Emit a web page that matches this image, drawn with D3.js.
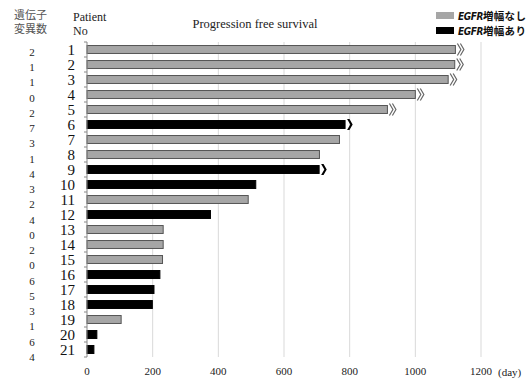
<!DOCTYPE html>
<html>
<head>
<meta charset="utf-8">
<script src="https://cdn.jsdelivr.net/npm/d3@7"></script>
<style>
  body { margin: 0; background: #fff; }
  svg { display: block; }
</style>
</head>
<body>
<div id="chart"></div>
<script>
// patient number, PFS (days), EGFR amplification, gene mutation count, still ongoing
var patients = ["1","2","3","4","5","6","7","8","9","10","11","12","13","14","15","16","17","18","19","20","21"];
var pfsDays = [1122, 1120, 1100, 1000, 915, 786, 769, 708, 707, 514, 491, 376, 232, 232, 230, 222, 204, 199, 104, 30, 21];
var egfrAmp = [0, 0, 0, 0, 0, 1, 0, 0, 1, 1, 0, 1, 0, 0, 0, 1, 1, 1, 0, 1, 1];
var geneCounts = [2, 1, 1, 0, 2, 7, 3, 1, 4, 3, 2, 4, 0, 2, 0, 6, 5, 3, 1, 6, 4];
var ongoing = [1, 1, 1, 1, 1, 1, 0, 0, 1, 0, 0, 0, 0, 0, 0, 0, 0, 0, 0, 0, 0];
var xTicks = [0, 200, 400, 600, 800, 1000, 1200];
var legendLabels = ["増幅なし", "増幅あり"];

var data = patients.map(function(p, i) {
  return { id: p, value: pfsDays[i], egfr: egfrAmp[i], genes: geneCounts[i], open: ongoing[i] };
});

var svg = d3.select("#chart").append("svg").attr("width", 530).attr("height", 379);
var serif = "'Liberation Serif', 'Times New Roman', serif";
var jp = "'Noto Sans CJK JP', sans-serif";

var xScale = d3.scaleLinear().domain([0, 1200]).range([87, 481]);
var yScale = d3.scaleBand().domain(patients).range([42, 357]).paddingInner(0.47).paddingOuter(0.235);
var geneScale = d3.scalePoint().domain(patients).range([52, 357]);

// gridlines
svg.append("g").selectAll("line")
   .data(xTicks.slice(1))
   .enter().append("line")
   .attr("x1", function(d) { return xScale(d); })
   .attr("x2", function(d) { return xScale(d); })
   .attr("y1", yScale.range()[0])
   .attr("y2", yScale.range()[1])
   .attr("stroke", "#d9d9d9")
   .attr("stroke-width", 1);

// x labels
svg.append("g").selectAll("text")
   .data(xTicks)
   .enter().append("text")
   .attr("x", function(d) { return xScale(d); })
   .attr("y", 375)
   .attr("text-anchor", "middle")
   .attr("font-family", serif)
   .attr("font-size", "11px")
   .attr("fill", "#222")
   .text(function(d) { return d; });

svg.append("text")
   .attr("x", xScale(1200) + 17)
   .attr("y", 376)
   .attr("font-family", serif)
   .attr("font-size", "11px")
   .attr("fill", "#222")
   .text("(day)");

// bars
svg.append("g").selectAll("rect")
   .data(data)
   .enter().append("rect")
   .attr("x", xScale(0))
   .attr("y", function(d) { return yScale(d.id); })
   .attr("width", function(d) { return xScale(d.value) - xScale(0); })
   .attr("height", yScale.bandwidth())
   .attr("fill", function(d) { return d.egfr ? "#000" : "#a6a6a6"; })
   .attr("stroke", function(d) { return d.egfr ? "#000" : "#555"; })
   .attr("stroke-width", 1);

// ongoing markers
var marks = svg.append("g");
data.forEach(function(d) {
  if (!d.open) return;
  var x0 = xScale(d.value) + 2;
  var cy = yScale(d.id) + yScale.bandwidth() / 2;
  if (d.egfr) {
    marks.append("path")
      .attr("d", "M" + x0 + "," + (cy - 5.5) + "L" + (x0 + 2.4) + "," + (cy - 5.5) +
                 "L" + (x0 + 5.6) + "," + cy + "L" + (x0 + 2.4) + "," + (cy + 5.5) +
                 "L" + x0 + "," + (cy + 5.5) + "L" + (x0 + 3.2) + "," + cy + "Z")
      .attr("fill", "#000");
  } else {
    [0, 3].forEach(function(dx) {
      marks.append("path")
        .attr("d", "M" + (x0 + dx) + "," + (cy - 6) + "L" + (x0 + dx + 3.5) + "," + cy +
                   "L" + (x0 + dx) + "," + (cy + 6))
        .attr("fill", "none")
        .attr("stroke", "#666")
        .attr("stroke-width", 1.2);
    });
  }
});

// y axis line + ticks at band boundaries
var yAxis = svg.append("g").attr("stroke", "#888");
yAxis.append("line")
     .attr("x1", xScale(0)).attr("x2", xScale(0))
     .attr("y1", yScale.range()[0]).attr("y2", yScale.range()[1]);
yAxis.selectAll(".tk")
     .data(d3.range(patients.length + 1))
     .enter().append("line")
     .attr("class", "tk")
     .attr("x1", xScale(0) - 3).attr("x2", xScale(0))
     .attr("y1", function(i) { return yScale.range()[0] + i * yScale.step(); })
     .attr("y2", function(i) { return yScale.range()[0] + i * yScale.step(); });

// patient numbers
svg.append("g").selectAll("text")
   .data(data)
   .enter().append("text")
   .attr("x", 75)
   .attr("y", function(d) { return yScale(d.id) + yScale.bandwidth() / 2; })
   .attr("dy", "0.35em")
   .attr("text-anchor", "end")
   .attr("font-family", serif)
   .attr("font-size", "15px")
   .attr("fill", "#111")
   .text(function(d) { return d.id; });

// gene mutation counts
svg.append("g").selectAll("text")
   .data(data)
   .enter().append("text")
   .attr("x", 32)
   .attr("y", function(d) { return geneScale(d.id); })
   .attr("dy", "0.35em")
   .attr("text-anchor", "middle")
   .attr("font-family", serif)
   .attr("font-size", "11px")
   .attr("fill", "#222")
   .text(function(d) { return d.genes; });

// headers
var h1 = svg.append("text").attr("font-family", jp)
   .attr("font-size", "11px").attr("fill", "#555");
h1.append("tspan").attr("x", 14).attr("y", 19).text("遺伝子");
h1.append("tspan").attr("x", 14).attr("y", 33).text("変異数");

var h2 = svg.append("text").attr("font-family", serif)
   .attr("font-size", "12px").attr("fill", "#222");
h2.append("tspan").attr("x", 73).attr("y", 21).text("Patient");
h2.append("tspan").attr("x", 73).attr("y", 35).text("No");

svg.append("text").attr("x", 255).attr("y", 28).attr("text-anchor", "middle")
   .attr("font-family", serif).attr("font-size", "12.5px").attr("fill", "#222")
   .text("Progression free survival");

// legend
var legend = svg.append("g");
legendLabels.forEach(function(lab, i) {
  legend.append("rect")
        .attr("x", 436).attr("y", 12 + i * 15)
        .attr("width", 18).attr("height", 7)
        .attr("fill", i ? "#000" : "#a6a6a6");
  var t = legend.append("text")
        .attr("x", 458).attr("y", 19.5 + i * 15)
        .attr("font-weight", "bold")
        .attr("fill", "#111");
  t.append("tspan")
   .attr("font-family", "'Liberation Sans Narrow', 'DejaVu Sans Condensed', sans-serif")
   .attr("font-size", "10px")
   .attr("font-style", "italic")
   .attr("letter-spacing", "-0.4px")
   .text("EGFR");
  t.append("tspan")
   .attr("font-family", jp)
   .attr("font-size", "10.5px")
   .attr("letter-spacing", "0.3px")
   .text(lab);
});
</script>
</body>
</html>
